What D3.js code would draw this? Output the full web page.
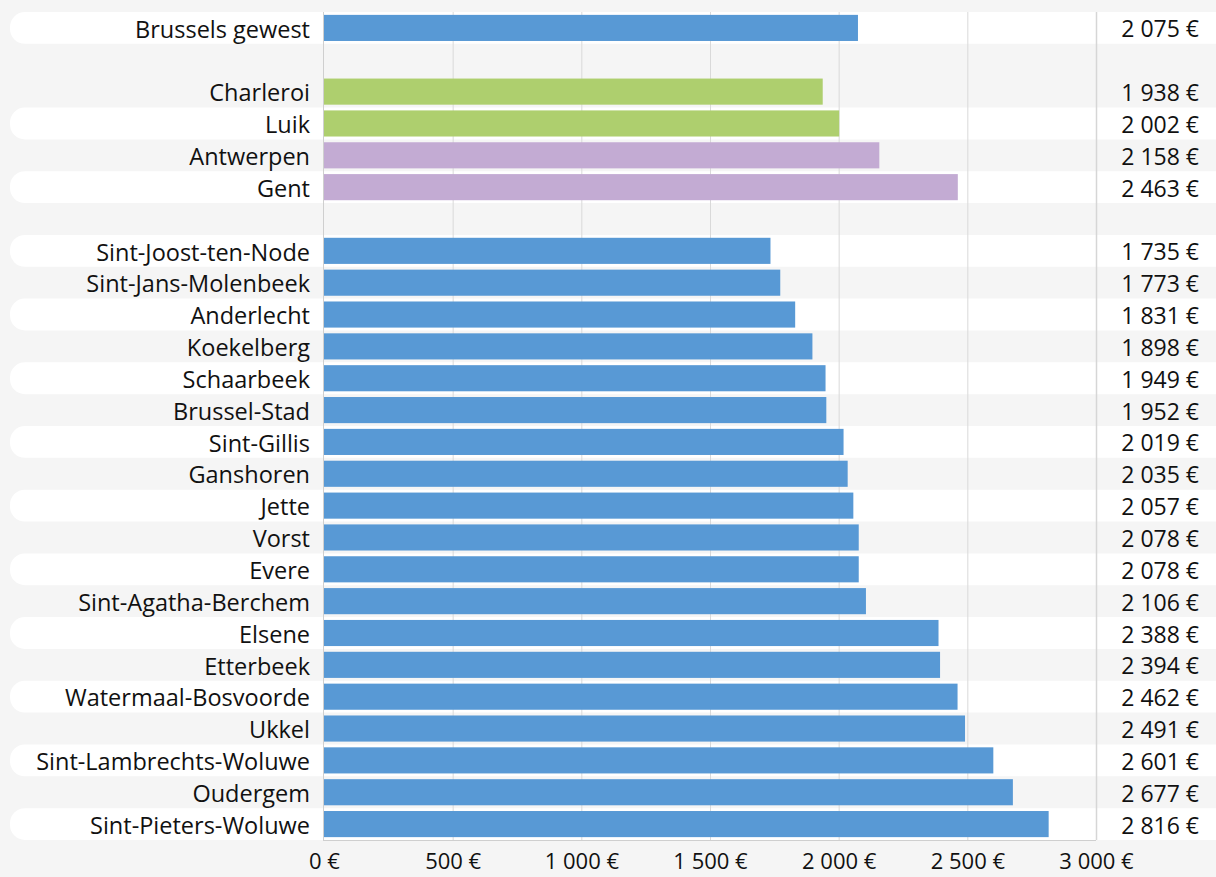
<!DOCTYPE html>
<html><head><meta charset="utf-8">
<script src="https://cdn.jsdelivr.net/npm/d3@7"></script>
<style>
html,body{margin:0;padding:0;background:#f5f5f5;}
svg{display:block;font-family:"Open Sans",sans-serif;}
</style></head>
<body><svg id="c" width="1216" height="877"></svg>
<script>
const categories = ["Brussels gewest", null, "Charleroi", "Luik", "Antwerpen", "Gent", null,
  "Sint-Joost-ten-Node","Sint-Jans-Molenbeek","Anderlecht","Koekelberg","Schaarbeek","Brussel-Stad",
  "Sint-Gillis","Ganshoren","Jette","Vorst","Evere","Sint-Agatha-Berchem","Elsene","Etterbeek",
  "Watermaal-Bosvoorde","Ukkel","Sint-Lambrechts-Woluwe","Oudergem","Sint-Pieters-Woluwe"];
const values = [2075, null, 1938, 2002, 2158, 2463, null,
  1735,1773,1831,1898,1949,1952,2019,2035,2057,2078,2078,2106,2388,2394,2462,2491,2601,2677,2816];
const regions = ["Brussel", null, "Wallonië", "Wallonië", "Vlaanderen", "Vlaanderen", null,
  "Brussel","Brussel","Brussel","Brussel","Brussel","Brussel","Brussel","Brussel","Brussel","Brussel",
  "Brussel","Brussel","Brussel","Brussel","Brussel","Brussel","Brussel","Brussel","Brussel"];
const tickValues = [0, 500, 1000, 1500, 2000, 2500, 3000];

const colors = {"Brussel":"#5899d5","Wallonië":"#aecf6e","Vlaanderen":"#c3abd3"};
const svg = d3.select("#c");
const idx = d3.range(categories.length);
const x = d3.scaleLinear().domain([0,3000]).range([324,1096]);
const y = d3.scaleBand().domain(idx).range([12,840]).padding(0);
const bw = y.bandwidth();
const fmt = v => d3.format(",")(v).replace(/,/g, "\u00A0") + "\u00A0€";

// stripes
const striped = idx.filter(i => categories[i] !== null && (i === 0 || i % 2 === 1));
svg.append("g").selectAll("rect").data(striped).join("rect")
  .attr("x", 10).attr("y", i => y(i)).attr("width", 1230).attr("height", bw)
  .attr("rx", 15).attr("fill", "#ffffff");

// grid
svg.append("g").selectAll("line").data(tickValues.slice(1)).join("line")
  .attr("x1", d => x(d)+0.5).attr("x2", d => x(d)+0.5).attr("y1", 12).attr("y2", 840)
  .attr("stroke", d => d===3000 ? "#d6d6d6" : "#d9d9d9").attr("stroke-width", d => d===3000 ? 1.5 : 1);

// bars
const rows = idx.filter(i => categories[i] !== null);
svg.append("g").selectAll("rect").data(rows).join("rect")
  .attr("x", x(0)).attr("y", i => y(i) + bw*0.09).attr("width", i => x(values[i]) - x(0))
  .attr("height", bw*0.82).attr("fill", i => colors[regions[i]]);

// axes lines
svg.append("line").attr("x1", x(0)-0.5).attr("x2", x(0)-0.5).attr("y1", 12).attr("y2", 840)
  .attr("stroke", "#cfcfcf");
svg.append("line").attr("x1", x(0)-1).attr("x2", x(3000)).attr("y1", 840.5).attr("y2", 840.5)
  .attr("stroke", "#cfcfcf");

// category labels
svg.append("g").selectAll("text").data(rows).join("text")
  .attr("x", 310).attr("y", i => y(i) + bw/2 + 1.5).attr("dy", "0.35em")
  .attr("text-anchor", "end").attr("font-size", 23.5).attr("fill", "#111")
  .text(i => categories[i]);

// value labels
svg.append("g").selectAll("text").data(rows).join("text")
  .attr("x", 1199).attr("y", i => y(i) + bw/2 + 1.5).attr("dy", "0.35em")
  .attr("text-anchor", "end").attr("font-size", 23).attr("fill", "#111")
  .text(i => fmt(values[i]));

// x axis
const ax = svg.append("g").attr("transform", "translate(0,861)")
  .call(d3.axisBottom(x).tickValues(tickValues).tickSize(0).tickPadding(0).tickFormat(fmt));
ax.select(".domain").remove();
ax.selectAll("text").attr("font-size", 22).attr("fill", "#111").attr("dy", "0.35em")
  .attr("font-family", "'Open Sans', sans-serif");
</script></body></html>
